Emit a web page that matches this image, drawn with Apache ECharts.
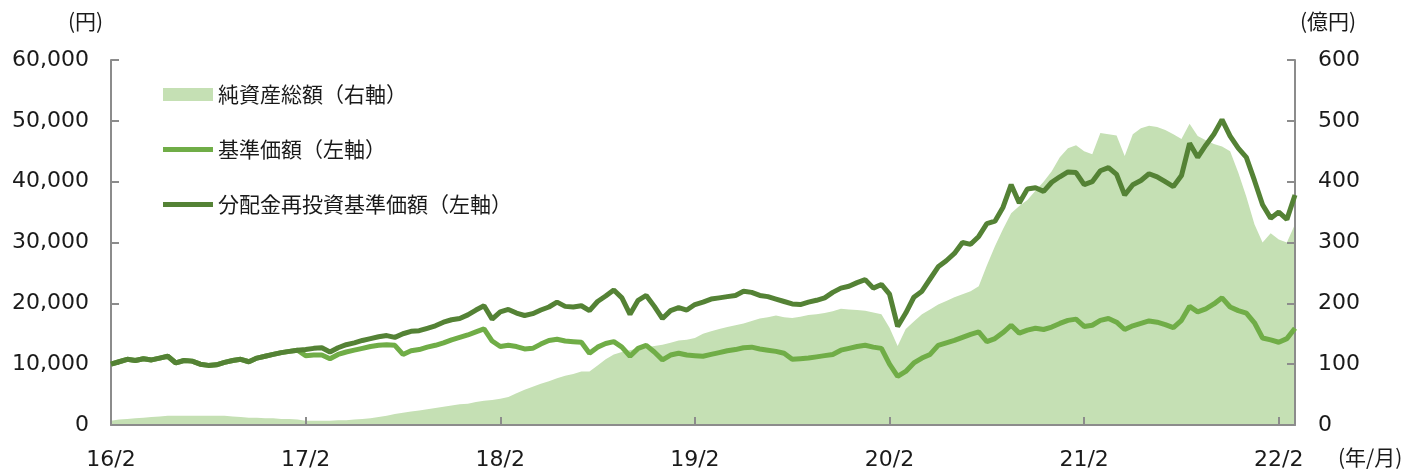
<!DOCTYPE html>
<html>
<head>
<meta charset="utf-8">
<script src="https://cdn.jsdelivr.net/npm/echarts@6/dist/echarts.min.js"></script>
<style>
html,body{margin:0;padding:0;background:#fff;}
#chart{width:1413px;height:471px;}
</style>
</head>
<body>
<div id="chart"></div>
<script>
// Semi-monthly observations from 2016/2 to 2022/3
const startYear = 2016, startMonth = 2, pointCount = 147;
const categories = [];
for (let i = 0; i < pointCount; i++) {
  const m = (startMonth - 1) + Math.floor(i / 2);
  const y = startYear + Math.floor(m / 12);
  const mm = (m % 12) + 1;
  categories.push(y + '/' + (mm < 10 ? '0' : '') + mm + (i % 2 === 0 ? '/01' : '/16'));
}

// 純資産総額（右軸, 億円）
const netAssets = [
  7,9,10,11,12,13,14,15,15,15,15,15,15,15,15,14,13,12,12,11,11,10,10,9,
  7,7,7,7,8,8,9,10,11,13,15,18,20,22,24,26,28,30,32,34,35,38,40,41,
  43,46,52,58,63,68,72,77,81,84,88,88,98,108,116,120,123,126,128,130,132,135,139,140,
  143,150,154,158,161,164,167,171,175,177,180,177,176,178,181,182,184,187,191,190,189,188,185,182,
  160,130,158,170,182,190,198,204,210,215,220,228,262,294,322,348,360,370,385,400,417,440,455,460,
  450,445,480,478,476,442,478,488,492,490,485,478,470,495,475,468,462,458,450,415,375,330,300,315,
  305,300,330
];

// 基準価額（左軸, 円）
const navPrice = [
  10000,10400,10800,10600,10900,10700,11000,11300,10200,10600,10500,10000,9800,9900,10300,10600,10800,10400,11000,11300,11600,11900,12100,12300,
  11400,11500,11500,10900,11600,12000,12300,12600,12900,13100,13200,13100,11600,12200,12400,12800,13100,13500,14000,14400,14800,15300,15800,13800,
  12900,13100,12900,12500,12600,13300,13900,14100,13800,13700,13600,11800,12800,13400,13700,12800,11300,12600,13100,12000,10700,11500,11800,11500,
  11400,11300,11600,11900,12200,12400,12700,12800,12500,12300,12100,11800,10800,10900,11000,11200,11400,11600,12300,12600,12900,13100,12800,12600,
  10000,8000,8800,10200,11000,11600,13100,13500,13900,14400,14900,15300,13700,14200,15200,16400,15100,15600,15900,15700,16100,16700,17200,17400,
  16200,16400,17200,17500,16900,15700,16300,16700,17100,16900,16500,16000,17200,19500,18600,19100,19900,20900,19400,18800,18400,16800,14300,14000,
  13600,14200,15900
];

// 分配金再投資基準価額（左軸, 円）
const reinvestedPrice = [
  10000,10400,10800,10600,10900,10700,11000,11300,10200,10600,10500,10000,9800,9900,10300,10600,10800,10400,11000,11300,11600,11900,12100,12300,
  12400,12600,12700,12000,12700,13200,13500,13900,14200,14500,14700,14400,15000,15400,15500,15900,16300,16900,17300,17500,18100,18900,19600,17400,
  18600,19000,18400,18000,18300,18900,19400,20200,19500,19400,19600,18800,20300,21200,22200,20900,18200,20500,21300,19500,17500,18800,19300,18900,
  19800,20200,20700,20900,21100,21300,22000,21800,21300,21100,20700,20300,19900,19800,20200,20500,20900,21800,22500,22800,23400,23900,22500,23100,
  21500,16200,18400,21000,22000,24000,26000,27000,28200,30000,29700,31000,33100,33500,35800,39500,36500,38800,39000,38400,39900,40800,41600,41500,
  39500,40000,41800,42300,41200,37800,39500,40200,41300,40800,40000,39200,41000,46300,44000,46000,47800,50200,47500,45500,44000,40200,36200,34000,
  35000,33800,37800
];

const leftTicks = { min: 0, max: 60000, interval: 10000 };
const rightTicks = { min: 0, max: 600, interval: 100 };

const seriesNames = ['純資産総額（右軸）', '基準価額（左軸）', '分配金再投資基準価額（左軸）'];

const textColor = '#1a1a1a';
const axisColor = '#8c8c8c';
const numFont = 'DejaVu Sans, Verdana, Noto Sans CJK JP, sans-serif';
const cjkFont = 'Noto Sans CJK JP, sans-serif';
// legend icon: 50x5 bar inside a 50x13 box (tiny invisible anchors keep the box)
const lineIcon = 'path://M0,0h0.01v0.01h-0.01Z M0,4h50v5h-50Z M0,13h0.01v0.01h-0.01Z';

function addCommas(v) {
  return String(v).replace(/\B(?=(\d{3})+(?!\d))/g, ',');
}
function isFeb(index) { return index % 24 === 0; }

const chart = echarts.init(document.getElementById('chart'), null, { renderer: 'canvas' });
chart.setOption({
  animation: false,
  backgroundColor: '#ffffff',
  grid: { left: 111, right: 118, top: 60, bottom: 44, containLabel: false },
  legend: {
    orient: 'vertical',
    left: 158,
    top: 79,
    itemWidth: 50,
    itemHeight: 13,
    itemGap: 34,
    textStyle: { fontFamily: cjkFont, fontSize: 21, color: textColor },
    data: [
      { name: seriesNames[0], icon: 'rect' },
      { name: seriesNames[1], icon: lineIcon },
      { name: seriesNames[2], icon: lineIcon }
    ]
  },
  xAxis: {
    type: 'category',
    data: categories,
    boundaryGap: false,
    z: 5,
    axisLine: { lineStyle: { color: axisColor, width: 2 } },
    axisTick: { inside: true, length: 8, interval: isFeb, lineStyle: { color: axisColor, width: 2 } },
    axisLabel: {
      interval: isFeb,
      margin: 24,
      fontFamily: numFont,
      fontSize: 22,
      color: textColor,
      formatter: function (v) {
        const p = v.split('/');
        return p[0].slice(2) + '/' + parseInt(p[1], 10);
      }
    },
    splitLine: { show: false }
  },
  yAxis: [
    {
      type: 'value',
      min: leftTicks.min, max: leftTicks.max, interval: leftTicks.interval,
      position: 'left',
      z: 1.5,
      axisLine: { show: true, lineStyle: { color: axisColor, width: 2 } },
      axisTick: { show: true, inside: true, length: 8, lineStyle: { color: axisColor, width: 2 } },
      axisLabel: { margin: 22, fontFamily: numFont, fontSize: 22, color: textColor, formatter: addCommas },
      splitLine: { show: false }
    },
    {
      type: 'value',
      min: rightTicks.min, max: rightTicks.max, interval: rightTicks.interval,
      position: 'right',
      z: 1.5,
      axisLine: { show: true, lineStyle: { color: axisColor, width: 2 } },
      axisTick: { show: true, inside: true, length: 8, lineStyle: { color: axisColor, width: 2 } },
      axisLabel: { margin: 23, fontFamily: numFont, fontSize: 22, color: textColor },
      splitLine: { show: false }
    }
  ],
  graphic: [
    { type: 'text', left: 68, top: 11, style: { text: '(円)', font: '21px ' + cjkFont, fill: textColor } },
    { type: 'text', left: 1300, top: 11, style: { text: '(億円)', font: '21px ' + cjkFont, fill: textColor } },
    { type: 'text', left: 1338, top: 447, style: { text: '(年/月)', font: '21px ' + cjkFont, fill: textColor } }
  ],
  series: [
    {
      name: seriesNames[0],
      type: 'line',
      yAxisIndex: 1,
      data: netAssets,
      symbol: 'none',
      color: '#c5e0b4',
      lineStyle: { width: 0, color: '#c5e0b4' },
      areaStyle: { color: '#c5e0b4', opacity: 1 },
      z: 1
    },
    {
      name: seriesNames[1],
      type: 'line',
      yAxisIndex: 0,
      data: navPrice,
      symbol: 'none',
      color: '#70ad47',
      lineStyle: { width: 5, color: '#70ad47' },
      z: 2
    },
    {
      name: seriesNames[2],
      type: 'line',
      yAxisIndex: 0,
      data: reinvestedPrice,
      symbol: 'none',
      color: '#548235',
      lineStyle: { width: 5, color: '#548235' },
      z: 3
    }
  ]
});
</script>
</body>
</html>
